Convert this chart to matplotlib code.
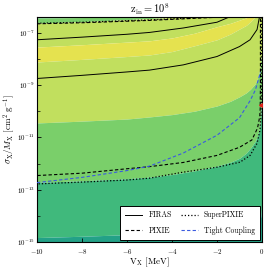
import numpy as np
import matplotlib
matplotlib.use("Agg")
import matplotlib.pyplot as plt
from matplotlib.ticker import FixedLocator, NullFormatter

plt.rcParams.update({
    "font.family": "serif",
    "font.serif": ["cmr10", "DejaVu Serif"],
    "mathtext.fontset": "cm",
    "axes.unicode_minus": False,
    "axes.formatter.use_mathtext": True,
})

# shared V grid for the filled bands (MeV)
V_GRID = [-10, -8, -6, -5, -4, -3, -2, -1.4, -1, -0.7, -0.5, -0.3, -0.2,
          -0.12, -0.08, -0.05, -0.03, -0.015, 0]

# band boundaries, log10(sigma/M), top to bottom
TOP = [-6.0] * len(V_GRID)
T1 = [-6.44, -6.42, -6.39, -6.3, -6.3, -6.3, -6.3, -6.3, -6.3, -6.3, -6.3,
      -6.3, -6.3, -6.3, -6.3, -6.3, -6.3, -6.3, -6.3]
T2 = [-6.63, -6.58, -6.5, -6.46, -6.41, -6.37, -6.3, -6.3, -6.3, -6.3, -6.3,
      -6.3, -6.3, -6.3, -6.3, -6.3, -6.3, -6.3, -6.3]
Y1 = [-7.55, -7.46, -7.36, -7.31, -7.2, -7.02, -6.77, -6.64, -6.52, -6.43,
      -6.36, -6.3, -6.3, -6.3, -6.3, -6.3, -6.3, -6.3, -6.3]
Y2 = [-8.12, -8.02, -7.91, -7.85, -7.72, -7.5, -7.27, -7.05, -6.86, -6.72,
      -6.57, -6.4, -6.32, -6.3, -6.3, -6.3, -6.3, -6.3, -6.3]
G2 = [-10.45, -10.38, -10.3, -10.22, -10.13, -10.0, -9.8, -9.62, -9.45, -9.3,
      -9.15, -8.95, -8.75, -8.5, -8.3, -8.1, -7.9, -7.7, -7.5]
G3 = [-12.72, -12.66, -12.58, -12.52, -12.42, -12.28, -12.1, -11.95, -11.8,
      -11.6, -11.4, -11.15, -10.95, -10.7, -10.45, -10.1, -9.7, -9.3, -8.8]
D1 = [-14.83, -14.78, -14.72, -14.69, -14.65, -14.6, -14.57, -14.55, -14.53,
      -14.52, -14.5, -14.45, -14.4, -14.3, -14.15, -14.0, -13.8, -13.6, -13.3]
BOTTOM = [-16.0] * len(V_GRID)

BANDS = [(TOP, T1, "#52c19a"), (T1, T2, "#7acf6a"), (T2, Y1, "#c1df5e"),
         (Y1, Y2, "#e5e24f"), (Y2, G2, "#c1df5e"), (G2, G3, "#7acf6a"),
         (G3, D1, "#40b97c"), (D1, BOTTOM, "#23a187")]

# experiment contours (V, log10 sigma)
FIRAS_HI_V = [-10, -8, -6, -5, -3.5, -2, -1.4, -1.0]
FIRAS_HI_L = [-7.27, -7.17, -7.06, -6.99, -6.82, -6.6, -6.38, -6.2]
FIRAS_LO_V = [-10, -8, -6, -5, -3.5, -2, -1, -0.53, -0.22, -0.12, -0.08]
FIRAS_LO_L = [-8.75, -8.63, -8.5, -8.43, -8.23, -7.91, -7.53, -7.27, -6.88,
              -6.43, -6.2]

PIXIE_V = [-10, -8, -6, -5, -4, -3, -2, -1, -0.2, -0.07, -0.07, -0.08, -0.1,
           -0.2, -0.45, -1.0, -2, -3.5, -5, -6, -8, -10]
PIXIE_L = [-6.66, -6.62, -6.56, -6.53, -6.49, -6.45, -6.41, -6.36, -6.3,
           -6.3, -9.0, -9.9, -10.2, -10.65, -11.1, -11.38, -11.69, -11.96,
           -12.12, -12.2, -12.37, -12.46]

SPIXIE_V = [-10, -8, -6, -5, -4, -3, -2, -1, -0.2, -0.025, -0.025, -0.04,
            -0.09, -0.22, -0.53, -0.98, -2, -3.5, -5, -6, -8, -10]
SPIXIE_L = [-6.64, -6.6, -6.54, -6.51, -6.47, -6.43, -6.39, -6.34, -6.3,
            -6.3, -9.3, -10.1, -10.73, -11.23, -11.69, -11.95, -12.14, -12.33,
            -12.56, -12.63, -12.71, -12.78]

TIGHT_V = [-10, -8, -6, -5, -3.5, -2, -1, -0.53, -0.3, -0.18, -0.1, -0.07]
TIGHT_L = [-12.73, -12.53, -12.27, -12.1, -11.6, -10.92, -10.25, -9.6, -9.2,
           -8.85, -8.6, -8.5]

MARKER_V = [0.0]
MARKER_L = [-9.77]

fig = plt.figure(figsize=(2.64, 2.70), dpi=100)
ax = fig.add_axes([37 / 264, 28 / 270, 225 / 264, 225 / 270])

vg = np.array(V_GRID)
for upper, lower, col in BANDS:
    ax.fill_between(vg, 10.0 ** np.array(lower), 10.0 ** np.array(upper),
                    color=col, lw=0, zorder=1)

ax.plot(FIRAS_HI_V, 10.0 ** np.array(FIRAS_HI_L), color="k", lw=0.7,
        zorder=3, label="FIRAS")
ax.plot(FIRAS_LO_V, 10.0 ** np.array(FIRAS_LO_L), color="k", lw=0.7, zorder=3)
ax.plot(PIXIE_V, 10.0 ** np.array(PIXIE_L), color="k", lw=0.8, ls=(0, (3, 2)),
        zorder=3, label="PIXIE")
ax.plot(SPIXIE_V, 10.0 ** np.array(SPIXIE_L), color="k", lw=0.9,
        ls=(0, (1, 1.6)), zorder=3, label="SuperPIXIE")
ax.plot(TIGHT_V, 10.0 ** np.array(TIGHT_L), color="#3b5be0", lw=0.8,
        ls=(0, (3, 2)), zorder=3, label="Tight Coupling")
ax.plot(MARKER_V, 10.0 ** np.array(MARKER_L), ls="none", marker="<",
        color="#e0201b", ms=5, zorder=4)

ax.set_yscale("log")
ax.set_xlim(-10, 0)
ax.set_ylim(1e-15, 10 ** -6.4)
ax.yaxis.set_major_locator(FixedLocator([1e-15, 1e-13, 1e-11, 1e-9, 1e-7]))
ax.yaxis.set_minor_locator(FixedLocator([1e-14, 1e-12, 1e-10, 1e-8]))
ax.yaxis.set_minor_formatter(NullFormatter())
ax.set_xticks([-10, -8, -6, -4, -2, 0])
ax.tick_params(which="both", direction="in", labelsize=5, pad=2)
ax.tick_params(axis="x", pad=3.5)
ax.tick_params(which="major", length=3, width=0.6)
ax.tick_params(which="minor", length=2, width=0.5)
for s in ax.spines.values():
    s.set_linewidth(0.8)

ax.set_title(r"$\mathrm{z_{in}} = 10^8$", fontsize=7.5, pad=3)
ax.set_xlabel(r"$\mathrm{V_X}$ [MeV]", fontsize=6.5, labelpad=0)
ax.set_ylabel(r"$\sigma_{\rm X}/M_{\rm X}\ [\rm cm^2\ g^{-1}]$",
              fontsize=6.5, labelpad=0)

leg = ax.legend(loc="lower right", ncol=2, fontsize=5.5, frameon=True,
                fancybox=False, framealpha=1, edgecolor="k",
                handlelength=2.2, columnspacing=1.2, labelspacing=0.9,
                borderpad=0.7, borderaxespad=0.25)
leg.get_frame().set_linewidth(0.7)
leg.set_zorder(5)

fig.savefig("out.png", dpi=100)
